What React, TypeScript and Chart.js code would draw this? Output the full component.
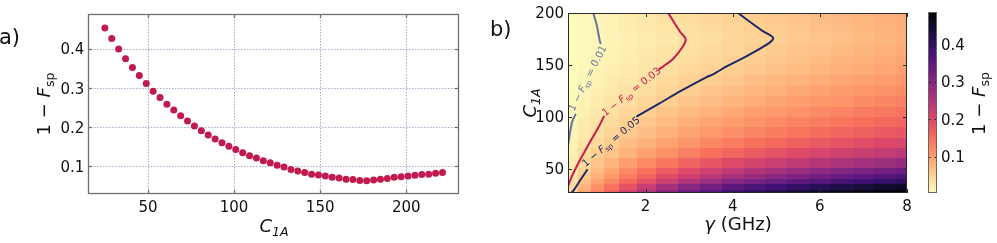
import React, { useEffect, useRef } from 'react';
import { Chart, registerables } from 'chart.js';

Chart.register(...registerables);

// ---------------- panel a) data ----------------
const C1A_VALUES = [25, 29, 33, 37, 41, 45, 49, 53, 57, 61, 65, 69, 73, 77, 81, 85, 89, 93, 97, 101, 105, 109, 113, 117, 121, 125, 129, 133, 137, 141, 145, 149, 153, 157, 161, 165, 169, 173, 177, 181, 185, 189, 193, 197, 201, 205, 209, 213, 217, 221];
const INFIDELITY = [0.454, 0.427, 0.400, 0.375, 0.353, 0.332, 0.312, 0.292, 0.276, 0.259, 0.244, 0.229, 0.216, 0.203, 0.191, 0.180, 0.170, 0.160, 0.151, 0.143, 0.135, 0.127, 0.121, 0.114, 0.109, 0.103, 0.098, 0.092, 0.088, 0.084, 0.080, 0.078, 0.075, 0.072, 0.070, 0.067, 0.066, 0.064, 0.063, 0.065, 0.067, 0.069, 0.072, 0.073, 0.075, 0.077, 0.079, 0.080, 0.082, 0.084];
const A_X_TICKS = [50, 100, 150, 200];
const A_Y_TICKS = [0.1, 0.2, 0.3, 0.4];

// ---------------- panel b) data ----------------
const GAMMA_GHZ = [0.3, 0.6, 0.9, 1.2, 1.6, 2.0, 2.5, 3.0, 3.5, 4.0, 4.5, 5.0, 5.5, 6.0, 6.5, 7.0, 7.5, 8.0];
const C1A_GRID = [27.5, 32.5, 37.5, 42.5, 47.5, 55, 65, 75, 85, 95, 105, 115, 125, 135, 145, 155, 165, 175, 185, 195];
// rows follow C1A_GRID (bottom -> top), columns follow GAMMA_GHZ
const INFIDELITY_MAP = [
  [0.050, 0.092, 0.130, 0.165, 0.210, 0.255, 0.300, 0.335, 0.360, 0.385, 0.405, 0.420, 0.435, 0.447, 0.458, 0.468, 0.477, 0.486],
  [0.040, 0.078, 0.113, 0.145, 0.185, 0.225, 0.265, 0.300, 0.325, 0.350, 0.370, 0.385, 0.400, 0.413, 0.425, 0.436, 0.446, 0.455],
  [0.034, 0.066, 0.096, 0.124, 0.158, 0.189, 0.222, 0.252, 0.277, 0.299, 0.318, 0.334, 0.349, 0.362, 0.374, 0.386, 0.397, 0.407],
  [0.029, 0.056, 0.082, 0.106, 0.136, 0.163, 0.193, 0.220, 0.243, 0.263, 0.281, 0.297, 0.312, 0.326, 0.338, 0.349, 0.360, 0.370],
  [0.025, 0.049, 0.072, 0.093, 0.120, 0.145, 0.171, 0.195, 0.216, 0.234, 0.251, 0.266, 0.280, 0.292, 0.304, 0.314, 0.324, 0.333],
  [0.022, 0.042, 0.061, 0.078, 0.100, 0.121, 0.143, 0.163, 0.180, 0.196, 0.210, 0.223, 0.235, 0.247, 0.257, 0.267, 0.276, 0.285],
  [0.017, 0.034, 0.049, 0.063, 0.080, 0.096, 0.114, 0.131, 0.146, 0.160, 0.173, 0.185, 0.196, 0.206, 0.215, 0.224, 0.233, 0.240],
  [0.014, 0.028, 0.040, 0.052, 0.067, 0.080, 0.096, 0.110, 0.123, 0.135, 0.146, 0.156, 0.166, 0.175, 0.183, 0.191, 0.198, 0.205],
  [0.012, 0.023, 0.034, 0.044, 0.056, 0.068, 0.081, 0.094, 0.105, 0.116, 0.126, 0.135, 0.144, 0.152, 0.160, 0.167, 0.174, 0.180],
  [0.010, 0.020, 0.029, 0.038, 0.049, 0.059, 0.071, 0.082, 0.092, 0.102, 0.111, 0.119, 0.127, 0.134, 0.141, 0.148, 0.154, 0.160],
  [0.0085, 0.017, 0.024, 0.032, 0.041, 0.050, 0.061, 0.071, 0.080, 0.089, 0.098, 0.105, 0.113, 0.120, 0.127, 0.133, 0.139, 0.145],
  [0.007, 0.014, 0.020, 0.027, 0.035, 0.043, 0.052, 0.061, 0.069, 0.077, 0.085, 0.092, 0.099, 0.106, 0.112, 0.119, 0.124, 0.130],
  [0.006, 0.012, 0.017, 0.023, 0.030, 0.037, 0.045, 0.053, 0.061, 0.068, 0.075, 0.082, 0.089, 0.095, 0.101, 0.107, 0.113, 0.118],
  [0.005, 0.010, 0.015, 0.020, 0.026, 0.032, 0.039, 0.047, 0.053, 0.060, 0.067, 0.073, 0.079, 0.085, 0.091, 0.096, 0.102, 0.107],
  [0.0043, 0.0085, 0.013, 0.017, 0.022, 0.028, 0.034, 0.041, 0.047, 0.053, 0.059, 0.065, 0.071, 0.076, 0.082, 0.087, 0.093, 0.098],
  [0.0036, 0.0073, 0.011, 0.014, 0.019, 0.024, 0.030, 0.036, 0.042, 0.047, 0.053, 0.059, 0.064, 0.070, 0.076, 0.081, 0.087, 0.092],
  [0.0032, 0.0065, 0.0097, 0.013, 0.017, 0.022, 0.027, 0.033, 0.038, 0.043, 0.049, 0.054, 0.060, 0.065, 0.070, 0.076, 0.081, 0.087],
  [0.0030, 0.0061, 0.0091, 0.012, 0.016, 0.020, 0.025, 0.030, 0.036, 0.041, 0.046, 0.051, 0.056, 0.061, 0.066, 0.071, 0.076, 0.081],
  [0.0034, 0.0067, 0.010, 0.013, 0.018, 0.022, 0.028, 0.033, 0.038, 0.043, 0.049, 0.054, 0.059, 0.064, 0.069, 0.073, 0.078, 0.083],
  [0.0039, 0.0078, 0.012, 0.015, 0.020, 0.025, 0.031, 0.036, 0.042, 0.047, 0.052, 0.057, 0.062, 0.067, 0.072, 0.076, 0.081, 0.085],
];
const B_X_TICKS = [2, 4, 6, 8];
const B_Y_TICKS = [50, 100, 150, 200];
const CBAR_TICKS = [0.1, 0.2, 0.3, 0.4];

// contour lines [gamma, C1A], split where the inline labels sit
const CONTOUR_001 = [
  [[0.22, 72], [0.27, 86], [0.32, 96], [0.40, 103]],
  [[0.975, 170.4], [0.95, 173], [0.876, 189], [0.80, 200]],
];
const CONTOUR_003 = [
  [[0.20, 31], [0.30, 42], [0.45, 55], [0.62, 68], [0.78, 80], [0.92, 90], [1.05, 101]],
  [[2.30, 145.5], [2.45, 150], [2.63, 155.7], [2.86, 168], [2.92, 175], [2.79, 182], [2.52, 200]],
];
const CONTOUR_005 = [
  [[0.28, 26], [0.34, 28.8], [0.50, 39], [0.67, 49.7]],
  [[1.79, 100.4], [2.33, 113.3], [2.79, 124.5], [3.40, 138.3], [3.55, 141], [3.9, 149.5], [4.3, 158], [4.78, 169.5], [4.93, 176], [4.70, 182.3], [4.12, 200]],
];
const CONTOUR_LEVELS = ['0.01', '0.03', '0.05'];
const CONTOUR_LABEL_AT = [[0.66, 137.4], [1.667, 124.6], [1.20, 76.5]];
const CONTOUR_LABEL_ANGLE = [-63, -38.6, -40];

// ---------------- styles ----------------
const FONT = '"DejaVu Sans", "Liberation Sans", sans-serif';
const TEXT = '#111111';
const DOT_COLOR = '#c01a4e';
const GRID_COLOR = 'rgba(95,105,160,0.55)';
const CONTOUR_COLORS = ['#64769f', '#c41c4f', '#1b2a66'];
const VMIN = 0.002;
const VMAX = 0.488;
const MAGMA_STOPS = ['#000004', '#140e36', '#3b0f70', '#641a80', '#8c2981', '#b73779', '#de4968', '#f7705c', '#fe9f6d', '#fecf92', '#fcfdbf'];
const MAGMA_RGB = MAGMA_STOPS.map((h) => [parseInt(h.slice(1, 3), 16), parseInt(h.slice(3, 5), 16), parseInt(h.slice(5, 7), 16)]);

function magmaR(v: number) {
  let t = (v - VMIN) / (VMAX - VMIN);
  t = Math.max(0, Math.min(1, t));
  const u = (1 - t) * (MAGMA_RGB.length - 1);
  const i = Math.min(MAGMA_RGB.length - 2, Math.floor(u));
  const f = u - i;
  const a = MAGMA_RGB[i];
  const b = MAGMA_RGB[i + 1];
  return `rgb(${Math.round(a[0] + (b[0] - a[0]) * f)},${Math.round(a[1] + (b[1] - a[1]) * f)},${Math.round(a[2] + (b[2] - a[2]) * f)})`;
}

type Seg = { t: string; it?: boolean; sub?: boolean };
const INF_LABEL: Seg[] = [{ t: '1 − ' }, { t: 'F', it: true }, { t: 'sp', sub: true }];
const C_LABEL: Seg[] = [{ t: 'C', it: true }, { t: '1A', it: true, sub: true }];
const GAMMA_LABEL: Seg[] = [{ t: 'γ', it: true }, { t: ' (GHz)' }];

function segFont(s: Seg, size: number) {
  return `${s.it ? 'italic ' : ''}${s.sub ? (size * 0.7).toFixed(2) : size}px ${FONT}`;
}

function drawSegs(ctx: CanvasRenderingContext2D, segs: Seg[], size: number, x: number, y: number, rot: number, align: 'center' | 'left', color: string, baseShift = 0) {
  ctx.save();
  ctx.translate(x, y);
  ctx.rotate(rot);
  ctx.fillStyle = color;
  ctx.textBaseline = 'alphabetic';
  ctx.textAlign = 'left';
  let w = 0;
  for (const s of segs) {
    ctx.font = segFont(s, size);
    w += ctx.measureText(s.t).width;
  }
  let cx = align === 'center' ? -w / 2 : 0;
  for (const s of segs) {
    ctx.font = segFont(s, size);
    ctx.fillText(s.t, cx, baseShift + (s.sub ? size * 0.24 : 0));
    cx += ctx.measureText(s.t).width;
  }
  ctx.restore();
}

function line(ctx: CanvasRenderingContext2D, x1: number, y1: number, x2: number, y2: number) {
  ctx.beginPath();
  ctx.moveTo(x1, y1);
  ctx.lineTo(x2, y2);
  ctx.stroke();
}

function drawFrame(chart: any, color: string, width: number, xt: number[], yt: number[], tickLen: number) {
  const { ctx, chartArea: a, scales } = chart;
  ctx.save();
  ctx.strokeStyle = color;
  ctx.lineWidth = width;
  ctx.setLineDash([]);
  for (const v of xt) {
    const px = Math.round(scales.x.getPixelForValue(v)) + 0.5;
    line(ctx, px, a.bottom, px, a.bottom - tickLen);
    line(ctx, px, a.top, px, a.top + tickLen);
  }
  for (const v of yt) {
    const py = Math.round(scales.y.getPixelForValue(v)) + 0.5;
    line(ctx, a.left, py, a.left + tickLen, py);
    line(ctx, a.right, py, a.right - tickLen, py);
  }
  ctx.strokeRect(Math.round(a.left) + 0.5, Math.round(a.top) + 0.5, Math.round(a.right - a.left) - 1, Math.round(a.bottom - a.top) - 1);
  ctx.restore();
}

function drawTickLabels(chart: any, xt: number[], yt: number[], xFmt: (v: number) => string, yFmt: (v: number) => string, yRight: number, xBase: number) {
  const { ctx, scales } = chart;
  ctx.save();
  ctx.fillStyle = TEXT;
  ctx.font = `15px ${FONT}`;
  ctx.textBaseline = 'alphabetic';
  ctx.textAlign = 'center';
  for (const v of xt) ctx.fillText(xFmt(v), scales.x.getPixelForValue(v), xBase);
  ctx.textAlign = 'right';
  for (const v of yt) ctx.fillText(yFmt(v), yRight, scales.y.getPixelForValue(v) + 5.4);
  ctx.restore();
}

function edges(c: number[]) {
  const e = [c[0] - (c[1] - c[0]) / 2];
  for (let i = 0; i < c.length - 1; i++) e.push((c[i] + c[i + 1]) / 2);
  e.push(c[c.length - 1] + (c[c.length - 1] - c[c.length - 2]) / 2);
  return e;
}

const panelA = {
  id: 'panelA',
  beforeDatasetsDraw(chart: any) {
    const { ctx, chartArea: a, scales } = chart;
    ctx.save();
    ctx.strokeStyle = GRID_COLOR;
    ctx.lineWidth = 1;
    ctx.setLineDash([1.5, 1.5]);
    for (const v of A_X_TICKS) {
      const px = Math.round(scales.x.getPixelForValue(v)) + 0.5;
      line(ctx, px, a.top, px, a.bottom);
    }
    for (const v of A_Y_TICKS) {
      const py = Math.round(scales.y.getPixelForValue(v)) + 0.5;
      line(ctx, a.left, py, a.right, py);
    }
    ctx.restore();
  },
  afterDatasetsDraw(chart: any) {
    drawFrame(chart, '#707070', 1.3, A_X_TICKS, A_Y_TICKS, 4);
  },
  afterDraw(chart: any) {
    const ctx = chart.ctx;
    drawTickLabels(chart, A_X_TICKS, A_Y_TICKS, (v) => String(v), (v) => v.toFixed(1), 84.3, 211.5);
    drawSegs(ctx, INF_LABEL, 18, 50, 104, -Math.PI / 2, 'center', TEXT);
    drawSegs(ctx, C_LABEL, 18, 274, 232, 0, 'center', TEXT);
    drawSegs(ctx, [{ t: 'a)' }], 21, -1, 44, 0, 'left', TEXT);
  },
};

const panelB = {
  id: 'panelB',
  beforeDatasetsDraw(chart: any) {
    const { ctx, chartArea: a, scales } = chart;
    const xe = edges(GAMMA_GHZ);
    const ye = edges(C1A_GRID);
    ctx.save();
    ctx.beginPath();
    ctx.rect(a.left, a.top, a.right - a.left, a.bottom - a.top);
    ctx.clip();
    for (let r = 0; r < C1A_GRID.length; r++) {
      const y0 = Math.round(scales.y.getPixelForValue(ye[r + 1]));
      const y1 = Math.round(scales.y.getPixelForValue(ye[r]));
      for (let c = 0; c < GAMMA_GHZ.length; c++) {
        const x0 = Math.round(scales.x.getPixelForValue(xe[c]));
        const x1 = Math.round(scales.x.getPixelForValue(xe[c + 1]));
        ctx.fillStyle = magmaR(INFIDELITY_MAP[r][c]);
        ctx.fillRect(x0, y0, x1 - x0, y1 - y0);
      }
    }
    ctx.restore();
  },
  afterDatasetsDraw(chart: any) {
    const { ctx, scales } = chart;
    for (let i = 0; i < CONTOUR_LEVELS.length; i++) {
      const [g, c] = CONTOUR_LABEL_AT[i];
      const px = scales.x.getPixelForValue(g);
      const py = scales.y.getPixelForValue(c);
      drawSegs(ctx, [...INF_LABEL, { t: ' = ' + CONTOUR_LEVELS[i] }], 10, px, py, (CONTOUR_LABEL_ANGLE[i] * Math.PI) / 180, 'center', CONTOUR_COLORS[i], 3.6);
    }
    drawFrame(chart, '#2a2a2a', 1, B_X_TICKS, B_Y_TICKS, 4);
  },
  afterDraw(chart: any) {
    const ctx = chart.ctx;
    drawTickLabels(chart, B_X_TICKS, B_Y_TICKS, (v) => String(v), (v) => String(v), 84, 211);
    drawSegs(ctx, C_LABEL, 18, 55.5, 103, -Math.PI / 2, 'center', TEXT);
    drawSegs(ctx, GAMMA_LABEL, 18, 258, 230, 0, 'center', TEXT);
    drawSegs(ctx, [{ t: 'b)' }], 21, 10, 35.6, 0, 'left', TEXT);
  },
};

const panelCbar = {
  id: 'panelCbar',
  beforeDatasetsDraw(chart: any) {
    const { ctx, chartArea: a, scales } = chart;
    ctx.save();
    const top = Math.round(a.top);
    const bottom = Math.round(a.bottom);
    for (let py = top; py < bottom; py++) {
      ctx.fillStyle = magmaR(scales.y.getValueForPixel(py + 0.5));
      ctx.fillRect(Math.round(a.left), py, Math.round(a.right - a.left), 1);
    }
    ctx.restore();
  },
  afterDraw(chart: any) {
    const { ctx, chartArea: a, scales } = chart;
    ctx.save();
    ctx.strokeStyle = '#222';
    ctx.lineWidth = 1;
    for (const v of CBAR_TICKS) {
      const py = Math.round(scales.y.getPixelForValue(v)) + 0.5;
      line(ctx, a.left, py, a.left + 2.5, py);
      line(ctx, a.right, py, a.right - 2.5, py);
    }
    ctx.strokeStyle = '#666';
    ctx.strokeRect(Math.round(a.left) + 0.5, Math.round(a.top) + 0.5, Math.round(a.right - a.left) - 1, Math.round(a.bottom - a.top) - 1);
    ctx.fillStyle = TEXT;
    ctx.font = `15px ${FONT}`;
    ctx.textAlign = 'left';
    ctx.textBaseline = 'alphabetic';
    for (const v of CBAR_TICKS) ctx.fillText(v.toFixed(1), 26, scales.y.getPixelForValue(v) + 5.4);
    ctx.restore();
    drawSegs(ctx, INF_LABEL, 18, 70, 103.5, -Math.PI / 2, 'center', TEXT);
  },
};

function contourDatasets() {
  const sets: any[] = [];
  [CONTOUR_001, CONTOUR_003, CONTOUR_005].forEach((segs, i) => {
    segs.forEach((seg) => {
      sets.push({
        data: seg.map(([g, c]) => ({ x: g, y: c })),
        showLine: true,
        borderColor: CONTOUR_COLORS[i],
        borderWidth: 2,
        pointRadius: 0,
        pointHoverRadius: 0,
        tension: 0.25,
        fill: false,
      });
    });
  });
  return sets;
}

const baseOptions = (padding: any, xr: [number, number], yr: [number, number]) => ({
  responsive: false,
  maintainAspectRatio: false,
  animation: false,
  events: [],
  layout: { padding },
  plugins: { legend: { display: false }, tooltip: { enabled: false } },
  scales: {
    x: { type: 'linear', display: false, min: xr[0], max: xr[1] },
    y: { type: 'linear', display: false, min: yr[0], max: yr[1] },
  },
});

export default function App() {
  const aRef = useRef<HTMLCanvasElement>(null);
  const bRef = useRef<HTMLCanvasElement>(null);
  const cRef = useRef<HTMLCanvasElement>(null);

  useEffect(() => {
    const charts: Chart[] = [];
    charts.push(
      new Chart(aRef.current as HTMLCanvasElement, {
        type: 'scatter',
        data: {
          datasets: [
            {
              data: C1A_VALUES.map((c, i) => ({ x: c, y: INFIDELITY[i] })),
              pointRadius: 3.5,
              pointHoverRadius: 3.5,
              pointBackgroundColor: DOT_COLOR,
              pointBorderColor: DOT_COLOR,
              pointBorderWidth: 0,
            },
          ],
        },
        options: baseOptions({ left: 88, right: 21, top: 14, bottom: 49 }, [15.2, 230.6], [0.0292, 0.4895]) as any,
        plugins: [panelA],
      })
    );
    charts.push(
      new Chart(bRef.current as HTMLCanvasElement, {
        type: 'scatter',
        data: { datasets: contourDatasets() },
        options: baseOptions({ left: 88, right: 8, top: 13, bottom: 50 }, [0.22, 8.0], [26.8, 200]) as any,
        plugins: [panelB],
      })
    );
    charts.push(
      new Chart(cRef.current as HTMLCanvasElement, {
        type: 'scatter',
        data: { datasets: [] },
        options: baseOptions({ left: 13, right: 60, top: 12, bottom: 50 }, [0, 1], [VMIN, VMAX]) as any,
        plugins: [panelCbar],
      })
    );
    return () => charts.forEach((c) => c.destroy());
  }, []);

  return (
    <div style={{ position: 'absolute', left: 0, top: 0, width: 997, height: 243, background: '#ffffff', overflow: 'hidden' }}>
      <canvas ref={aRef} width={480} height={243} style={{ position: 'absolute', left: 0, top: 0, width: 480, height: 243 }} />
      <canvas ref={bRef} width={435} height={243} style={{ position: 'absolute', left: 480, top: 0, width: 435, height: 243 }} />
      <canvas ref={cRef} width={82} height={243} style={{ position: 'absolute', left: 915, top: 0, width: 82, height: 243 }} />
    </div>
  );
}
